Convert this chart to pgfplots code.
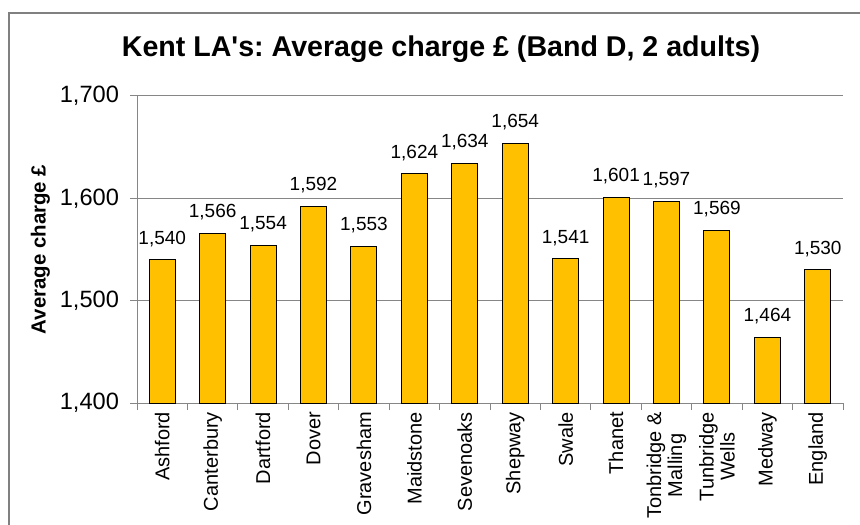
\documentclass[border=0pt]{standalone}
\usepackage{fontspec}
\setmainfont{Liberation Sans}
\usepackage{pgfplots}
\pgfplotsset{compat=1.18}
\definecolor{barc}{RGB}{255,192,0}
\definecolor{gridc}{RGB}{134,134,134}
\definecolor{framec}{RGB}{128,128,128}
\frenchspacing

\begin{document}
\begin{tikzpicture}[x=1pt,y=1pt]
\useasboundingbox (0,0) rectangle (430,262);
% outer chart frame (right and bottom edges fall off the page)
\draw[framec, line width=1pt] (4.5,-20) -- (4.5,255.5) -- (450,255.5);
\node[anchor=base, font=\fontsize{14.3}{16}\selectfont\bfseries] at (220.5,233.5)
  {Kent LA\textquotesingle s: Average charge £ (Band D, 2 adults)};
\begin{axis}[
  at={(68.5pt,60.5pt)}, anchor=south west,
  scale only axis, width=353pt, height=153.5pt,
  xmin=-0.5, xmax=13.5, ymin=1400, ymax=1700,
  axis x line*=bottom, axis y line*=left,
  axis line style={gridc, -},
  ymajorgrids, grid style={gridc, line width=0.5pt},
  ytick={1400,1500,1600,1700},
  minor ytick={1400,1500,1600,1700},
  xtick={0,...,13},
  minor xtick={-0.5,0.5,...,13.5},
  major tick length=0pt, minor tick length=3.5pt,
  tick align=outside,
  every tick/.style={gridc, line width=0.5pt},
  xticklabels={Ashford,Canterbury,Dartford,Dover,Gravesham,Maidstone,Sevenoaks,Shepway,Swale,Thanet,{Tonbridge \&\\Malling},{Tunbridge\\Wells},Medway,England},
  xticklabel style={rotate=90, anchor=east, align=center, font=\fontsize{10}{10.5}\selectfont, xshift=-1pt},
  yticklabel style={font=\fontsize{11.8}{13}\selectfont, xshift=-5.5pt},
  /pgf/number format/assume math mode=true,
  /pgf/number format/1000 sep={,},
  ylabel={Average charge £},
  ylabel style={at={(axis description cs:-0.137,0.5)}, anchor=center, font=\fontsize{10.2}{12}\selectfont\bfseries},
  ybar, bar width=13pt,
  nodes near coords,
  nodes near coords style={font=\fontsize{9.5}{11}\selectfont, anchor=south, yshift=3pt,
    /pgf/number format/assume math mode=true, /pgf/number format/1000 sep={,}},
]
\addplot[fill=barc, draw=black, line width=0.5pt] coordinates {
  (0,1540)(1,1566)(2,1554)(3,1592)(4,1553)(5,1624)(6,1634)
  (7,1654)(8,1541)(9,1601)(10,1597)(11,1569)(12,1464)(13,1530)
};
\end{axis}
\end{tikzpicture}
\end{document}
